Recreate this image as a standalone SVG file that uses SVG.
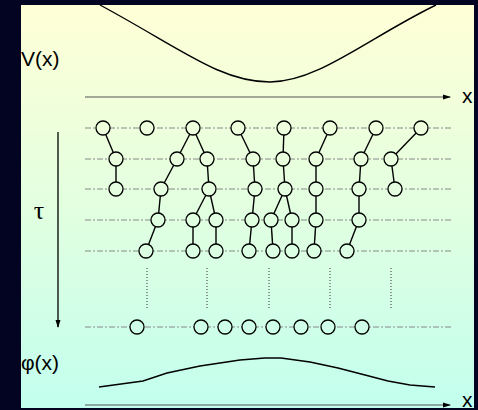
<svg xmlns="http://www.w3.org/2000/svg" width="478" height="410" viewBox="0 0 478 410">
<defs>
<linearGradient id="bg" gradientUnits="userSpaceOnUse" x1="0" y1="5" x2="0" y2="408">
<stop offset="0" stop-color="#FFFFD6"/>
<stop offset="0.5" stop-color="#E2FFE0"/>
<stop offset="1" stop-color="#C2FFEE"/>
</linearGradient>
<marker id="ah" markerWidth="8" markerHeight="6" refX="7" refY="3" orient="auto" markerUnits="userSpaceOnUse">
<path d="M0,0.5 L8,3 L0,5.5 Z" fill="#000"/>
</marker>
</defs>
<style>
.lvl{stroke:#888;stroke-width:1;stroke-dasharray:6 2 2 2;fill:none}
.dot{stroke:#333;stroke-width:1;stroke-dasharray:1 2;fill:none}
.e{stroke:#000;stroke-width:1.4;fill:none}
.n circle{fill:url(#bg);stroke:#000;stroke-width:1.3}
.lab{font-family:"Liberation Sans",Arial,sans-serif;font-size:21px;fill:#000}
.curve{stroke:#000;stroke-width:1.4;fill:none}
.axis{stroke:#555;stroke-width:1.2;fill:none}
</style>
<rect x="0" y="0" width="478" height="410" fill="#030322"/>
<rect x="21" y="5" width="453" height="403" fill="url(#bg)"/>

<g id="labels">
<text class="lab" x="21" y="66">V(x)</text>
<text class="lab" x="21" y="370">φ(x)</text>
<text class="lab" x="462" y="103">x</text>
<text class="lab" x="462" y="407">x</text>
<text x="39" y="219" text-anchor="middle" font-family="Liberation Serif,serif" font-size="26">τ</text>
</g>

<g id="potential">
<path class="curve" d="M100,5 C180,48 220,82 270,82 C318,82 368,38 436,5"/>
<polyline class="curve" points="99,387 143,381 167,373 200,366 240,360 265,358 281,358 310,362 338,368 365,375 388,381 410,385 435,387"/>
</g>

<g id="axes">
<line class="axis" x1="85" y1="97" x2="450" y2="97" marker-end="url(#ah)"/>
<line class="axis" x1="85" y1="405" x2="450" y2="405" marker-end="url(#ah)" stroke="#000"/>
<line x1="58" y1="132" x2="58" y2="327" stroke="#000" stroke-width="1.3" marker-end="url(#ah)"/>
</g>

<g id="levels">
<line class="lvl" x1="85" y1="128" x2="453" y2="128"/>
<line class="lvl" x1="85" y1="159" x2="453" y2="159"/>
<line class="lvl" x1="85" y1="189" x2="453" y2="189"/>
<line class="lvl" x1="85" y1="220" x2="453" y2="220"/>
<line class="lvl" x1="85" y1="251" x2="453" y2="251"/>
<line class="lvl" x1="85" y1="327" x2="453" y2="327"/>
<line class="dot" x1="147" y1="268" x2="147" y2="310"/>
<line class="dot" x1="207" y1="268" x2="207" y2="310"/>
<line class="dot" x1="269" y1="268" x2="269" y2="310"/>
<line class="dot" x1="330" y1="268" x2="330" y2="310"/>
<line class="dot" x1="391" y1="268" x2="391" y2="310"/>
</g>

<g id="connectors">
<line class="e" x1="103" y1="128" x2="116" y2="159"/>
<line class="e" x1="193" y1="128" x2="177" y2="159"/>
<line class="e" x1="193" y1="128" x2="207" y2="159"/>
<line class="e" x1="238" y1="128" x2="253" y2="159"/>
<line class="e" x1="284" y1="128" x2="283" y2="159"/>
<line class="e" x1="330" y1="128" x2="316" y2="159"/>
<line class="e" x1="376" y1="128" x2="361" y2="159"/>
<line class="e" x1="421" y1="128" x2="391" y2="159"/>

<line class="e" x1="116" y1="159" x2="116" y2="189"/>
<line class="e" x1="177" y1="159" x2="161" y2="189"/>
<line class="e" x1="207" y1="159" x2="209" y2="189"/>
<line class="e" x1="253" y1="159" x2="255" y2="189"/>
<line class="e" x1="283" y1="159" x2="285" y2="189"/>
<line class="e" x1="316" y1="159" x2="316" y2="189"/>
<line class="e" x1="361" y1="159" x2="359" y2="189"/>
<line class="e" x1="391" y1="159" x2="395" y2="189"/>

<line class="e" x1="161" y1="189" x2="158" y2="220"/>
<line class="e" x1="209" y1="189" x2="193" y2="220"/>
<line class="e" x1="209" y1="189" x2="216" y2="220"/>
<line class="e" x1="255" y1="189" x2="252" y2="220"/>
<line class="e" x1="285" y1="189" x2="271" y2="220"/>
<line class="e" x1="285" y1="189" x2="292" y2="220"/>
<line class="e" x1="316" y1="189" x2="316" y2="220"/>
<line class="e" x1="359" y1="189" x2="359" y2="220"/>

<line class="e" x1="158" y1="220" x2="146" y2="251"/>
<line class="e" x1="193" y1="220" x2="193" y2="251"/>
<line class="e" x1="216" y1="220" x2="216" y2="251"/>
<line class="e" x1="252" y1="220" x2="249" y2="251"/>
<line class="e" x1="271" y1="220" x2="273" y2="251"/>
<line class="e" x1="292" y1="220" x2="292" y2="251"/>
<line class="e" x1="316" y1="220" x2="314" y2="251"/>
<line class="e" x1="359" y1="220" x2="347" y2="251"/>
</g>

<g id="nodes" class="n">
<g id="r1">
<circle cx="103" cy="128" r="7"/><circle cx="147" cy="128" r="7"/><circle cx="193" cy="128" r="7"/><circle cx="238" cy="128" r="7"/>
<circle cx="284" cy="128" r="7"/><circle cx="330" cy="128" r="7"/><circle cx="376" cy="128" r="7"/><circle cx="421" cy="128" r="7"/>
</g>
<g id="r2">
<circle cx="116" cy="159" r="7"/><circle cx="177" cy="159" r="7"/><circle cx="207" cy="159" r="7"/><circle cx="253" cy="159" r="7"/>
<circle cx="283" cy="159" r="7"/><circle cx="316" cy="159" r="7"/><circle cx="361" cy="159" r="7"/><circle cx="391" cy="159" r="7"/>
</g>
<g id="r3">
<circle cx="116" cy="189" r="7"/><circle cx="161" cy="189" r="7"/><circle cx="209" cy="189" r="7"/><circle cx="255" cy="189" r="7"/>
<circle cx="285" cy="189" r="7"/><circle cx="316" cy="189" r="7"/><circle cx="359" cy="189" r="7"/><circle cx="395" cy="189" r="7"/>
</g>
<g id="r4">
<circle cx="158" cy="220" r="7"/><circle cx="193" cy="220" r="7"/><circle cx="216" cy="220" r="7"/><circle cx="252" cy="220" r="7"/>
<circle cx="271" cy="220" r="7"/><circle cx="292" cy="220" r="7"/><circle cx="316" cy="220" r="7"/><circle cx="359" cy="220" r="7"/>
</g>
<g id="r5">
<circle cx="146" cy="251" r="7"/><circle cx="193" cy="251" r="7"/><circle cx="216" cy="251" r="7"/><circle cx="249" cy="251" r="7"/>
<circle cx="273" cy="251" r="7"/><circle cx="292" cy="251" r="7"/><circle cx="314" cy="251" r="7"/><circle cx="347" cy="251" r="7"/>
</g>
<g id="r6">
<circle cx="137" cy="327" r="7"/><circle cx="201" cy="327" r="7"/><circle cx="225" cy="327" r="7"/><circle cx="249" cy="327" r="7"/>
<circle cx="273" cy="327" r="7"/><circle cx="301" cy="327" r="7"/><circle cx="328" cy="327" r="7"/><circle cx="362" cy="327" r="7"/>
</g>
</g>
</svg>
